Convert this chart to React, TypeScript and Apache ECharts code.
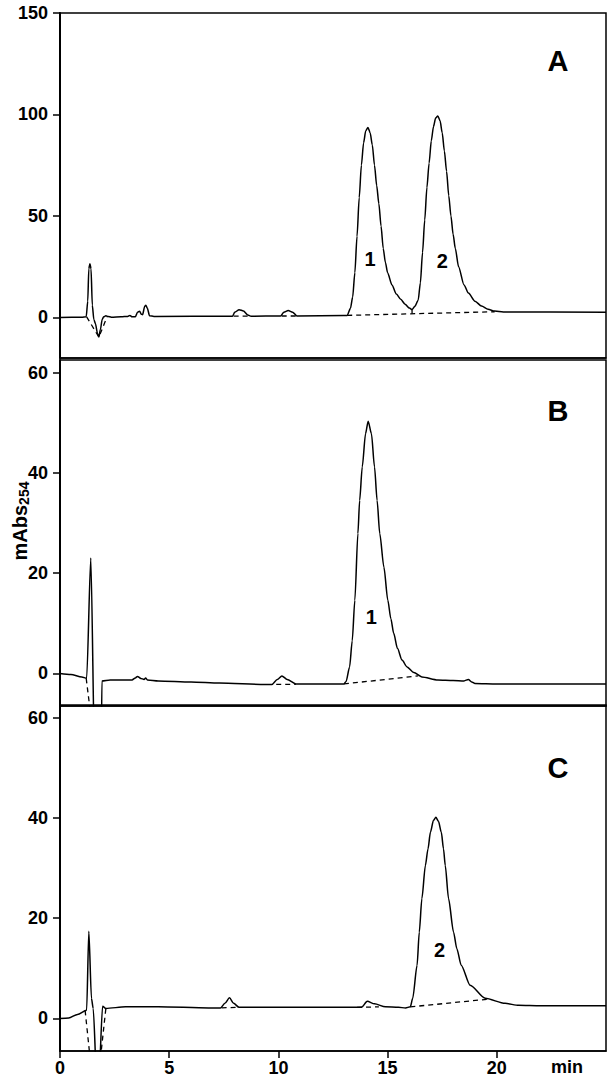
import React, { useEffect, useRef } from "react";
import * as echarts from "echarts";

// ---- axis ticks ----
const xTicks = [0, 5, 10, 15, 20];
const yTicksA = [0, 50, 100, 150];
const yTicksBC = [0, 20, 40, 60];

// ---- Panel A trace ----
const tA = [0, 1.0, 1.2, 1.27, 1.32, 1.37, 1.42, 1.48, 1.55, 1.62, 1.72, 1.78, 1.85, 1.93, 2.0, 2.1, 2.2, 2.35, 2.8, 3.1, 3.2, 3.3, 3.45, 3.55, 3.65, 3.72, 3.78, 3.88, 3.93, 4.0, 4.1, 4.3, 7.9, 8.0, 8.2, 8.4, 8.6, 8.75, 10.1, 10.25, 10.45, 10.65, 10.85, 13.0, 13.15, 13.3, 13.4, 13.5, 13.6, 13.7, 13.8, 13.9, 14.0, 14.1, 14.2, 14.3, 14.4, 14.5, 14.6, 14.7, 14.8, 14.9, 15.0, 15.2, 15.4, 15.6, 15.8, 16.0, 16.12, 16.25, 16.4, 16.5, 16.6, 16.7, 16.8, 16.9, 17.0, 17.1, 17.2, 17.3, 17.4, 17.5, 17.6, 17.7, 17.8, 17.9, 18.0, 18.1, 18.25, 18.5, 18.7, 19.0, 19.3, 19.6, 19.9, 20.3, 25];
const yA = [0, 0.1, 0.3, 8, 24, 26.5, 24, 6, -1, -3, -8, -9.7, -6, -1, 0.3, 0.8, 0.5, 0.1, 0.3, 0.5, 1.0, 0.3, 0.3, 2.6, 3.0, 1.6, 1.3, 5.5, 6.0, 4.5, 0.8, 0.5, 0.6, 2.5, 3.8, 3.2, 1.2, 0.6, 0.7, 2.6, 3.4, 2.6, 0.7, 0.9, 1.0, 4.5, 10, 22, 40, 59, 75, 86, 92, 93.6, 91, 85, 75, 65, 56, 45, 34, 27, 22, 16, 11.5, 8.9, 6.5, 4.6, 3.9, 5.5, 8.5, 17, 32, 48, 64, 76, 87, 94, 98.3, 99.3, 97, 91, 82, 72, 60, 50, 41, 34, 25, 16, 12, 8, 5.6, 4, 3.1, 2.7, 2.6];
const dashA = [
  [[1.22, 0.3], [1.78, -9.7], [2.16, 0.4]],
  [[7.95, 0.6], [8.75, 0.6]],
  [[10.15, 0.7], [10.85, 0.7]],
  [[13.15, 1.0], [19.9, 2.8]],
  [[16.12, 3.9], [16.12, 1.9]],
];
const peakLabelsA = [{ name: "1", value: [14.2, 28.6] }, { name: "2", value: [17.5, 27.8] }];

// ---- Panel B trace ----
const tB = [0, 0.5, 1.0, 1.22, 1.41, 1.6, 1.88, 1.92, 2.3, 2.8, 3.3, 3.45, 3.55, 3.7, 3.85, 3.92, 4.0, 4.5, 6.0, 7.3, 9.4, 9.7, 9.95, 10.16, 10.4, 10.8, 13.0, 13.1, 13.26, 13.38, 13.5, 13.64, 13.72, 13.84, 13.99, 14.11, 14.26, 14.4, 14.52, 14.64, 14.83, 15.01, 15.15, 15.28, 15.45, 15.66, 15.89, 16.2, 16.57, 17.3, 18.0, 18.5, 18.7, 18.85, 19.0, 20, 25];
const yB = [0, -0.2, -0.7, -1.0, 23, -20, -20, -1.5, -1.3, -1.3, -1.3, -0.9, -0.6, -1.0, -1.2, -0.9, -1.3, -1.5, -1.7, -1.9, -2.2, -2.2, -1.2, -0.5, -1.2, -2.1, -2.1, -1.6, 1.3, 6.5, 14.6, 27.9, 34.5, 41.2, 47.8, 50.3, 47.8, 41.2, 34.5, 27.9, 21.2, 14.6, 10.9, 8.0, 5.0, 2.65, 1.3, 0.2, -0.7, -1.3, -1.4, -1.5, -1.2, -1.7, -2.0, -2.1, -2.1];
const dashB = [
  [[1.2, -1.0], [1.6, -15]],
  [[9.9, -2.2], [10.8, -2.2]],
  [[13.0, -2.1], [16.4, -0.5]],
];
const peakLabelsB = [{ name: "1", value: [14.25, 11.3] }];

// ---- Panel C trace ----
const tC = [0, 0.4, 0.8, 1.22, 1.32, 1.44, 1.52, 1.68, 1.78, 1.95, 2.1, 3.0, 4.5, 6.8, 7.35, 7.55, 7.76, 7.95, 8.2, 10, 13.8, 14.07, 14.4, 14.9, 15.5, 15.82, 16.04, 16.15, 16.35, 16.45, 16.57, 16.73, 16.85, 16.96, 17.1, 17.21, 17.33, 17.46, 17.56, 17.64, 17.79, 18.02, 18.17, 18.37, 18.78, 19.47, 20.38, 21.0, 22, 25];
const yC = [0, 0.1, 0.8, 1.65, 17.4, 4.0, 2.0, -12, -12, 2.4, 2.0, 2.3, 2.3, 2.1, 2.1, 3.0, 4.1, 3.0, 2.2, 2.2, 2.2, 3.4, 2.9, 2.3, 2.2, 2.1, 2.3, 4.0, 10.6, 17.2, 23.9, 30.5, 33.8, 37.1, 39.5, 40.1, 39.3, 37.1, 33.8, 30.5, 23.9, 17.2, 13.9, 10.6, 6.6, 4.0, 3.0, 2.6, 2.5, 2.5];
const dashC = [
  [[1.15, 1.6], [1.38, -8]],
  [[1.85, -8], [2.1, 2.0]],
  [[7.4, 2.1], [8.15, 2.2]],
  [[13.6, 2.2], [14.6, 2.3]],
  [[16.04, 2.3], [19.54, 3.8]],
];
const peakLabelsC = [{ name: "2", value: [17.38, 13.6] }];

const FONT = "Liberation Sans";

function zip(t: number[], y: number[]) {
  return t.map((v, i) => [v, y[i]]);
}

export default function App() {
  const ref = useRef<HTMLDivElement>(null);
  useEffect(() => {
    if (!ref.current) return;
    const chart = echarts.init(ref.current, null, { renderer: "svg" });
    const grids = [
      { left: 60, top: 13, width: 546, height: 345 },
      { left: 60, top: 360, width: 546, height: 346 },
      { left: 60, top: 705, width: 546, height: 346 },
    ].map((g) => ({ ...g, show: true, borderColor: "#000", borderWidth: 1.5, backgroundColor: "transparent" }));

    const labelStyle = { color: "#000", fontFamily: FONT, fontWeight: "bold" as const, fontSize: 18 };

    const xAxes = [0, 1, 2].map((i) => ({
      type: "value",
      gridIndex: i,
      min: 0,
      max: 25,
      interval: 5,
      splitLine: { show: false },
      axisLine: { show: true, onZero: false, lineStyle: { color: "#000", width: 1.5 } },
      axisTick: i === 2 ? { show: true, length: 7, customValues: xTicks, lineStyle: { color: "#000", width: 1.5 } } : { show: false },
      axisLabel: i === 2 ? { show: true, margin: 8, customValues: xTicks, ...labelStyle } : { show: false },
    }));

    const yAxes = [0, 1, 2].map((i) => ({
      type: "value",
      gridIndex: i,
      min: i === 0 ? -20 : -6.5,
      max: i === 0 ? 150 : 62.5,
      splitLine: { show: false },
      axisLine: { show: true, onZero: false, lineStyle: { color: "#000", width: 2 } },
      axisTick: { show: true, length: 7, customValues: i === 0 ? yTicksA : yTicksBC, lineStyle: { color: "#000", width: 1.5 } },
      axisLabel: { show: true, margin: 12, customValues: i === 0 ? yTicksA : yTicksBC, ...labelStyle },
    }));

    const series: any[] = [];
    const traces = [zip(tA, yA), zip(tB, yB), zip(tC, yC)];
    const dashes = [dashA, dashB, dashC];
    const labels = [peakLabelsA, peakLabelsB, peakLabelsC];
    for (let i = 0; i < 3; i++) {
      series.push({
        type: "line",
        xAxisIndex: i,
        yAxisIndex: i,
        data: traces[i],
        showSymbol: false,
        symbol: "none",
        smooth: 0.25,
        smoothMonotone: "x",
        lineStyle: { color: "#000", width: 1.5 },
        silent: true,
      });
      dashes[i].forEach((seg) => {
        series.push({
          type: "line",
          xAxisIndex: i,
          yAxisIndex: i,
          data: seg,
          showSymbol: false,
          symbol: "none",
          lineStyle: { color: "#000", width: 1.3, type: [5, 4] },
          silent: true,
        });
      });
      series.push({
        type: "scatter",
        xAxisIndex: i,
        yAxisIndex: i,
        data: labels[i],
        symbolSize: 0,
        itemStyle: { color: "#000", opacity: 1 },
        label: {
          show: true,
          position: "inside",
          formatter: (p: any) => p.name,
          color: "#000",
          opacity: 1,
          textBorderWidth: 0,
          fontFamily: FONT,
          fontWeight: "bold",
          fontSize: 20,
        },
        silent: true,
      });
    }

    const panelText = (txt: string, x: number, y: number) => ({
      type: "text",
      x,
      y,
      style: { text: txt, fill: "#000", font: `bold 29px ${FONT}`, align: "center", verticalAlign: "middle" },
    });

    chart.setOption({
      animation: false,
      grid: grids,
      xAxis: xAxes,
      yAxis: yAxes,
      series,
      graphic: [
        panelText("A", 558, 61),
        panelText("B", 558, 411),
        panelText("C", 558, 768),
        {
          type: "text",
          x: 567,
          y: 1067,
          style: { text: "min", fill: "#000", font: `bold 18px ${FONT}`, align: "center", verticalAlign: "middle" },
        },
        {
          type: "text",
          x: 20,
          y: 521,
          rotation: Math.PI / 2,
          style: {
            text: "{a|mAbs}{b|254}",
            align: "center",
            verticalAlign: "middle",
            fill: "#000",
            rich: {
              a: { fontFamily: FONT, fontWeight: "bold", fontSize: 20, lineHeight: 22, fill: "#000" },
              b: { fontFamily: FONT, fontWeight: "bold", fontSize: 14, lineHeight: 14, verticalAlign: "bottom", padding: [7, 0, 0, 0], fill: "#000" },
            },
          },
        },
      ],
    });
    return () => chart.dispose();
  }, []);
  return <div ref={ref} style={{ position: "absolute", left: 0, top: 0, width: 612, height: 1078 }} />;
}
